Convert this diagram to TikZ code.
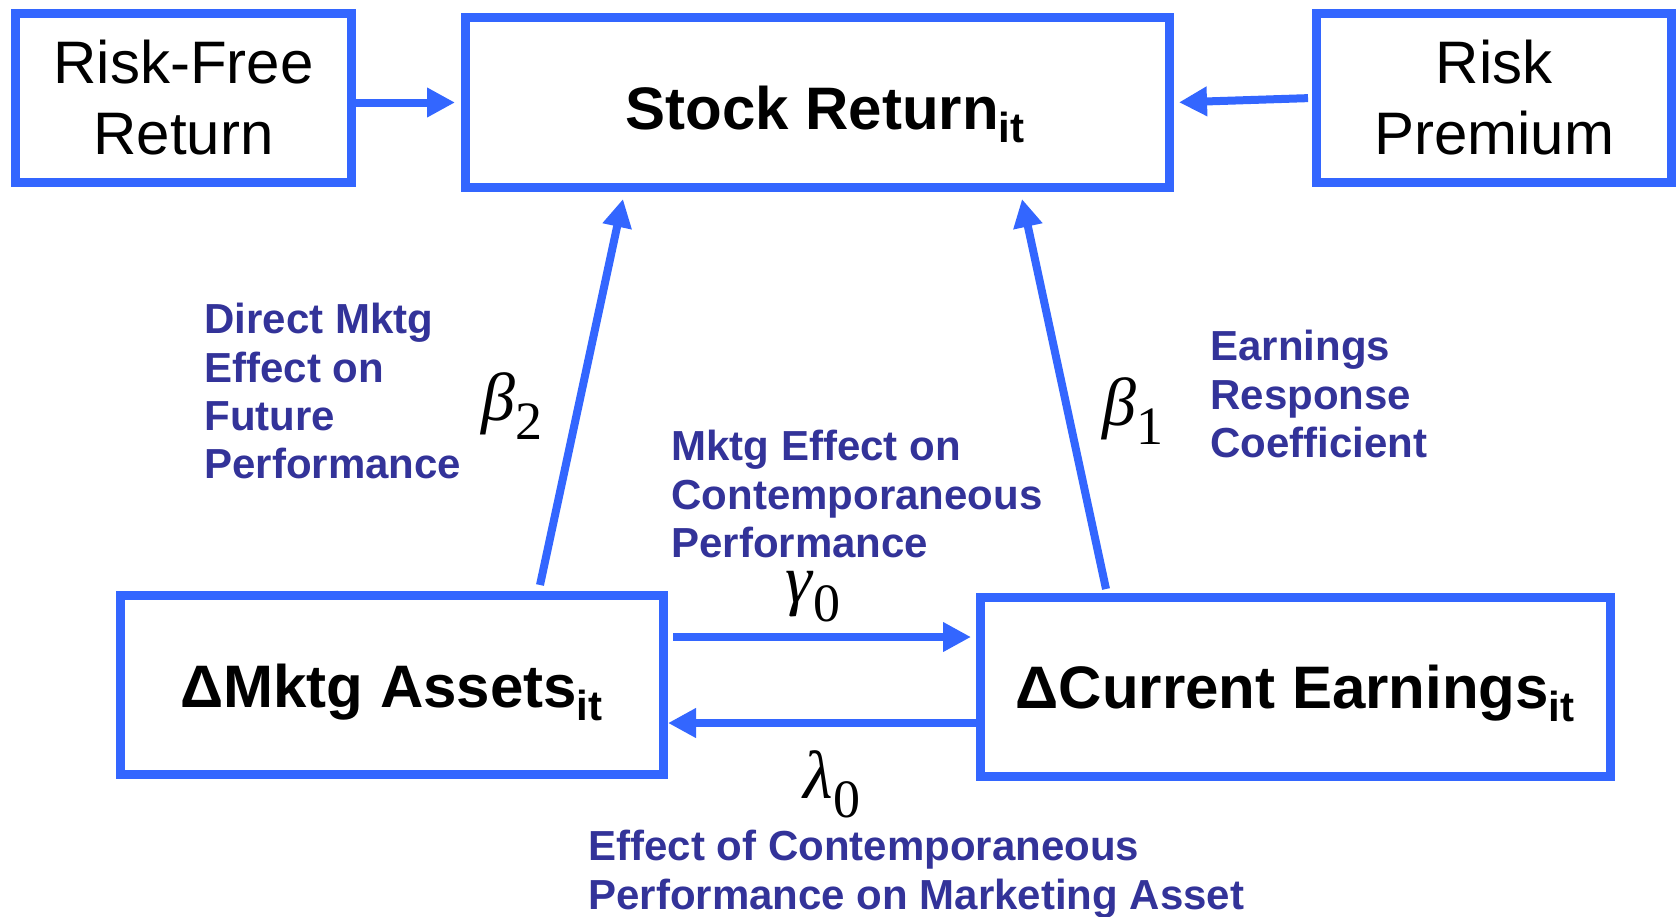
\documentclass[tikz,border=0pt]{standalone}
\usepackage{fontspec}
\setmainfont{Liberation Sans}
\newfontfamily\serifgr{Liberation Serif}
\usetikzlibrary{calc}
\usetikzlibrary{arrows.meta}

\definecolor{azulcaixa}{HTML}{3366FF}
\definecolor{azultexto}{HTML}{333399}

% letra grega em italico com indice numerico abaixo
\newcommand{\coefic}[2]{{\serifgr\itshape #1\/}{\serifgr\raisebox{-.28em}{\fontsize{27}{27}\selectfont #2}}}

\begin{document}
\begin{tikzpicture}[
  caixa/.style={draw=azulcaixa, line width=4.5pt, align=center, inner sep=0pt},
  titulo/.style={font=\fontsize{30}{35.5}\selectfont\bfseries, text depth=0pt},
  seta/.style={draw=azulcaixa, line width=4pt, -{Triangle[length=14pt,width=14pt]}},
  rotulo/.style={anchor=north west, inner sep=0pt, align=left, text=azultexto,
    font=\fontsize{21}{24.15}\selectfont\bfseries},
  coef/.style={inner sep=0pt, font=\fontsize{34}{40}\selectfont}
]

  %--------------------------------------------
  % Escala: 1 unidade = 1 pixel da figura (y para baixo)
  %--------------------------------------------
  \begin{scope}[x=.5pt, y=-.5pt]

    \useasboundingbox (0,0) rectangle (1679,916);

    %--------------------------------------------
    % Caixas de cima
    %--------------------------------------------
    \node[caixa, minimum width=168pt, minimum height=84.5pt,
      font=\fontsize{30}{35.5}\selectfont] (rf) at (183.5,98) {Risk-Free\\Return};
    \node[caixa, titulo, text height=27pt, minimum width=352pt, minimum height=85pt]
      (sr) at (817.5,102.5) {\hspace*{8pt}Stock Return\textsubscript{it}};
    \node[caixa, minimum width=177.5pt, minimum height=84.5pt,
      font=\fontsize{30}{35.5}\selectfont] (rp) at (1494,98) {Risk\\Premium};

    %--------------------------------------------
    % Caixas de baixo
    %--------------------------------------------
    \node[caixa, titulo, text height=22pt, minimum width=271.5pt, minimum height=89.5pt]
      (ma) at (392,685) {ΔMktg Assets\textsubscript{it}};
    \node[caixa, titulo, text height=21.5pt, minimum width=315pt, minimum height=89.5pt]
      (ce) at (1295.5,687) {ΔCurrent Earnings\textsubscript{it}};

    %--------------------------------------------
    % Setas
    %--------------------------------------------
    \draw[seta, shorten >=3pt] (rf.east |- sr.west) -- (sr.west);
    \draw[seta, shorten <=2pt, shorten >=2.5pt] (rp.west) -- (sr.east);

    \draw[seta] ([xshift=74pt, yshift=3pt]ma.north) -- ([xshift=-97.25pt, yshift=-3.5pt]sr.south);
    \draw[seta] ([xshift=-94.75pt, yshift=2pt]ce.north) -- ([xshift=102.25pt, yshift=-3.5pt]sr.south);

    \draw[seta, shorten <=2.5pt, shorten >=2.5pt]
      ([yshift=24pt]ma.east) -- ([yshift=24pt]ma.east -| ce.west);
    \draw[seta] ([yshift=-18pt]ce.west) -- ([yshift=-18pt]ce.west -| ma.east);

    %--------------------------------------------
    % Coeficientes
    %--------------------------------------------
    \node[coef] (b2) at (512,406) {\coefic{β}{2}};
    \node[coef] (b1) at (1133,411) {\coefic{β}{1}};
    \node[coef] (g0) at (813,597) {\coefic{γ}{0}};
    \node[coef] (l0) at (832,784) {\coefic{λ}{0}};

    %--------------------------------------------
    % Textos explicativos (azul escuro)
    %--------------------------------------------
    \node[rotulo] (txdireto) at (204,303) {Direct Mktg\\Effect on\\Future\\Performance};
    \node[rotulo] (txerc) at (1210,330) {Earnings\\Response\\Coefficient};
    \node[rotulo] (txcontemp) at (671,430) {Mktg Effect on\\Contemporaneous\\Performance};
    \node[rotulo] (txretro) at (588,830) {Effect of Contemporaneous\\Performance on Marketing Asset};

  \end{scope}

\end{tikzpicture}
\end{document}
